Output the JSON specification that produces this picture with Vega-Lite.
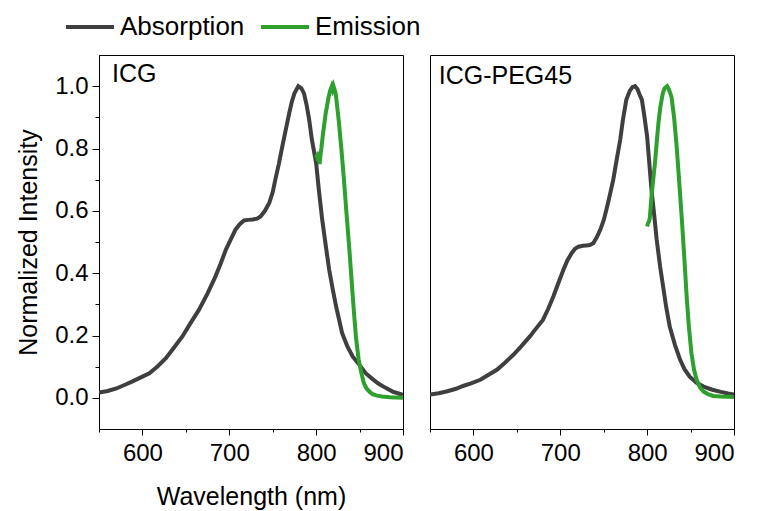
{
  "$schema": "https://vega.github.io/schema/vega-lite/v6.json",
  "autosize": {"type": "pad"},
  "padding": {"left": 16, "top": 1, "right": 5, "bottom": 5},
  "background": "white",
  "datasets": {
    "spectra": [
      {"p":"ICG","s":"Absorption","x":550,"y":0.017},{"p":"ICG","s":"Absorption","x":560,"y":0.022},{"p":"ICG","s":"Absorption","x":570,"y":0.030},{"p":"ICG","s":"Absorption","x":580,"y":0.042},{"p":"ICG","s":"Absorption","x":588,"y":0.052},{"p":"ICG","s":"Absorption","x":600,"y":0.068},{"p":"ICG","s":"Absorption","x":608,"y":0.079},{"p":"ICG","s":"Absorption","x":617,"y":0.100},{"p":"ICG","s":"Absorption","x":627,"y":0.127},{"p":"ICG","s":"Absorption","x":636,"y":0.160},{"p":"ICG","s":"Absorption","x":646,"y":0.197},{"p":"ICG","s":"Absorption","x":655,"y":0.238},{"p":"ICG","s":"Absorption","x":665,"y":0.282},{"p":"ICG","s":"Absorption","x":675,"y":0.335},{"p":"ICG","s":"Absorption","x":684,"y":0.389},{"p":"ICG","s":"Absorption","x":690,"y":0.430},{"p":"ICG","s":"Absorption","x":696,"y":0.475},{"p":"ICG","s":"Absorption","x":702,"y":0.510},{"p":"ICG","s":"Absorption","x":707,"y":0.539},{"p":"ICG","s":"Absorption","x":712,"y":0.557},{"p":"ICG","s":"Absorption","x":717,"y":0.569},{"p":"ICG","s":"Absorption","x":722,"y":0.571},{"p":"ICG","s":"Absorption","x":727,"y":0.572},{"p":"ICG","s":"Absorption","x":732,"y":0.575},{"p":"ICG","s":"Absorption","x":736,"y":0.582},{"p":"ICG","s":"Absorption","x":741,"y":0.600},{"p":"ICG","s":"Absorption","x":746,"y":0.625},{"p":"ICG","s":"Absorption","x":750,"y":0.660},{"p":"ICG","s":"Absorption","x":753,"y":0.700},{"p":"ICG","s":"Absorption","x":757,"y":0.750},{"p":"ICG","s":"Absorption","x":761,"y":0.806},{"p":"ICG","s":"Absorption","x":765,"y":0.860},{"p":"ICG","s":"Absorption","x":769,"y":0.913},{"p":"ICG","s":"Absorption","x":772,"y":0.950},{"p":"ICG","s":"Absorption","x":775,"y":0.977},{"p":"ICG","s":"Absorption","x":779.5,"y":1.0},{"p":"ICG","s":"Absorption","x":783,"y":0.993},{"p":"ICG","s":"Absorption","x":786,"y":0.977},{"p":"ICG","s":"Absorption","x":789,"y":0.940},{"p":"ICG","s":"Absorption","x":792,"y":0.892},{"p":"ICG","s":"Absorption","x":795,"y":0.830},{"p":"ICG","s":"Absorption","x":800,"y":0.753},{"p":"ICG","s":"Absorption","x":803,"y":0.670},{"p":"ICG","s":"Absorption","x":807,"y":0.571},{"p":"ICG","s":"Absorption","x":811,"y":0.490},{"p":"ICG","s":"Absorption","x":815,"y":0.411},{"p":"ICG","s":"Absorption","x":819,"y":0.350},{"p":"ICG","s":"Absorption","x":823,"y":0.293},{"p":"ICG","s":"Absorption","x":830,"y":0.207},{"p":"ICG","s":"Absorption","x":836,"y":0.165},{"p":"ICG","s":"Absorption","x":842,"y":0.133},{"p":"ICG","s":"Absorption","x":850,"y":0.105},{"p":"ICG","s":"Absorption","x":857,"y":0.079},{"p":"ICG","s":"Absorption","x":865,"y":0.060},{"p":"ICG","s":"Absorption","x":872,"y":0.045},{"p":"ICG","s":"Absorption","x":880,"y":0.032},{"p":"ICG","s":"Absorption","x":888,"y":0.020},{"p":"ICG","s":"Absorption","x":895,"y":0.014},{"p":"ICG","s":"Absorption","x":900,"y":0.010},
      {"p":"ICG","s":"Emission","x":800,"y":0.770},{"p":"ICG","s":"Emission","x":801,"y":0.780},{"p":"ICG","s":"Emission","x":802,"y":0.760},{"p":"ICG","s":"Emission","x":803,"y":0.790},{"p":"ICG","s":"Emission","x":804,"y":0.750},{"p":"ICG","s":"Emission","x":805,"y":0.780},{"p":"ICG","s":"Emission","x":806,"y":0.800},{"p":"ICG","s":"Emission","x":808,"y":0.850},{"p":"ICG","s":"Emission","x":811,"y":0.913},{"p":"ICG","s":"Emission","x":814,"y":0.960},{"p":"ICG","s":"Emission","x":816,"y":0.985},{"p":"ICG","s":"Emission","x":818,"y":1.0},{"p":"ICG","s":"Emission","x":819,"y":0.990},{"p":"ICG","s":"Emission","x":820,"y":1.0},{"p":"ICG","s":"Emission","x":822.5,"y":0.977},{"p":"ICG","s":"Emission","x":824,"y":0.940},{"p":"ICG","s":"Emission","x":826,"y":0.890},{"p":"ICG","s":"Emission","x":829,"y":0.800},{"p":"ICG","s":"Emission","x":832,"y":0.700},{"p":"ICG","s":"Emission","x":835,"y":0.590},{"p":"ICG","s":"Emission","x":838,"y":0.485},{"p":"ICG","s":"Emission","x":841,"y":0.370},{"p":"ICG","s":"Emission","x":843.6,"y":0.272},{"p":"ICG","s":"Emission","x":846,"y":0.190},{"p":"ICG","s":"Emission","x":849,"y":0.122},{"p":"ICG","s":"Emission","x":852,"y":0.080},{"p":"ICG","s":"Emission","x":855,"y":0.047},{"p":"ICG","s":"Emission","x":858,"y":0.030},{"p":"ICG","s":"Emission","x":862,"y":0.018},{"p":"ICG","s":"Emission","x":865,"y":0.012},{"p":"ICG","s":"Emission","x":870,"y":0.007},{"p":"ICG","s":"Emission","x":876,"y":0.004},{"p":"ICG","s":"Emission","x":885,"y":0.002},{"p":"ICG","s":"Emission","x":900,"y":0.0},
      {"p":"PEG","s":"Absorption","x":550,"y":0.011},{"p":"PEG","s":"Absorption","x":560,"y":0.015},{"p":"PEG","s":"Absorption","x":570,"y":0.021},{"p":"PEG","s":"Absorption","x":580,"y":0.029},{"p":"PEG","s":"Absorption","x":588,"y":0.038},{"p":"PEG","s":"Absorption","x":598,"y":0.047},{"p":"PEG","s":"Absorption","x":608,"y":0.058},{"p":"PEG","s":"Absorption","x":617,"y":0.073},{"p":"PEG","s":"Absorption","x":627,"y":0.090},{"p":"PEG","s":"Absorption","x":636,"y":0.112},{"p":"PEG","s":"Absorption","x":646,"y":0.138},{"p":"PEG","s":"Absorption","x":655,"y":0.165},{"p":"PEG","s":"Absorption","x":665,"y":0.197},{"p":"PEG","s":"Absorption","x":672,"y":0.222},{"p":"PEG","s":"Absorption","x":680,"y":0.250},{"p":"PEG","s":"Absorption","x":686,"y":0.285},{"p":"PEG","s":"Absorption","x":692,"y":0.325},{"p":"PEG","s":"Absorption","x":698,"y":0.370},{"p":"PEG","s":"Absorption","x":703.5,"y":0.410},{"p":"PEG","s":"Absorption","x":708,"y":0.440},{"p":"PEG","s":"Absorption","x":713,"y":0.464},{"p":"PEG","s":"Absorption","x":717,"y":0.478},{"p":"PEG","s":"Absorption","x":721,"y":0.485},{"p":"PEG","s":"Absorption","x":726,"y":0.488},{"p":"PEG","s":"Absorption","x":730,"y":0.489},{"p":"PEG","s":"Absorption","x":734,"y":0.490},{"p":"PEG","s":"Absorption","x":738,"y":0.496},{"p":"PEG","s":"Absorption","x":742,"y":0.515},{"p":"PEG","s":"Absorption","x":746,"y":0.539},{"p":"PEG","s":"Absorption","x":750,"y":0.570},{"p":"PEG","s":"Absorption","x":753,"y":0.603},{"p":"PEG","s":"Absorption","x":757,"y":0.650},{"p":"PEG","s":"Absorption","x":761,"y":0.700},{"p":"PEG","s":"Absorption","x":765,"y":0.765},{"p":"PEG","s":"Absorption","x":769,"y":0.828},{"p":"PEG","s":"Absorption","x":772,"y":0.890},{"p":"PEG","s":"Absorption","x":776,"y":0.956},{"p":"PEG","s":"Absorption","x":780,"y":0.985},{"p":"PEG","s":"Absorption","x":783,"y":0.997},{"p":"PEG","s":"Absorption","x":786,"y":1.0},{"p":"PEG","s":"Absorption","x":789,"y":0.990},{"p":"PEG","s":"Absorption","x":791,"y":0.975},{"p":"PEG","s":"Absorption","x":794,"y":0.956},{"p":"PEG","s":"Absorption","x":797,"y":0.900},{"p":"PEG","s":"Absorption","x":800,"y":0.838},{"p":"PEG","s":"Absorption","x":802,"y":0.770},{"p":"PEG","s":"Absorption","x":805,"y":0.667},{"p":"PEG","s":"Absorption","x":808,"y":0.590},{"p":"PEG","s":"Absorption","x":811,"y":0.507},{"p":"PEG","s":"Absorption","x":815,"y":0.420},{"p":"PEG","s":"Absorption","x":819,"y":0.346},{"p":"PEG","s":"Absorption","x":822,"y":0.290},{"p":"PEG","s":"Absorption","x":826,"y":0.229},{"p":"PEG","s":"Absorption","x":832,"y":0.170},{"p":"PEG","s":"Absorption","x":838,"y":0.122},{"p":"PEG","s":"Absorption","x":843,"y":0.092},{"p":"PEG","s":"Absorption","x":849,"y":0.068},{"p":"PEG","s":"Absorption","x":857,"y":0.048},{"p":"PEG","s":"Absorption","x":865,"y":0.036},{"p":"PEG","s":"Absorption","x":875,"y":0.026},{"p":"PEG","s":"Absorption","x":885,"y":0.019},{"p":"PEG","s":"Absorption","x":893,"y":0.014},{"p":"PEG","s":"Absorption","x":900,"y":0.011},
      {"p":"PEG","s":"Emission","x":800,"y":0.550},{"p":"PEG","s":"Emission","x":801,"y":0.560},{"p":"PEG","s":"Emission","x":802,"y":0.565},{"p":"PEG","s":"Emission","x":803,"y":0.576},{"p":"PEG","s":"Emission","x":804,"y":0.610},{"p":"PEG","s":"Emission","x":805,"y":0.646},{"p":"PEG","s":"Emission","x":807,"y":0.700},{"p":"PEG","s":"Emission","x":809,"y":0.753},{"p":"PEG","s":"Emission","x":811,"y":0.820},{"p":"PEG","s":"Emission","x":813,"y":0.881},{"p":"PEG","s":"Emission","x":815,"y":0.930},{"p":"PEG","s":"Emission","x":818,"y":0.977},{"p":"PEG","s":"Emission","x":820,"y":0.993},{"p":"PEG","s":"Emission","x":823,"y":1.0},{"p":"PEG","s":"Emission","x":825,"y":0.990},{"p":"PEG","s":"Emission","x":828,"y":0.966},{"p":"PEG","s":"Emission","x":831,"y":0.900},{"p":"PEG","s":"Emission","x":834,"y":0.806},{"p":"PEG","s":"Emission","x":837,"y":0.690},{"p":"PEG","s":"Emission","x":840,"y":0.571},{"p":"PEG","s":"Emission","x":843,"y":0.440},{"p":"PEG","s":"Emission","x":845.5,"y":0.325},{"p":"PEG","s":"Emission","x":848,"y":0.230},{"p":"PEG","s":"Emission","x":851,"y":0.143},{"p":"PEG","s":"Emission","x":854,"y":0.090},{"p":"PEG","s":"Emission","x":857,"y":0.058},{"p":"PEG","s":"Emission","x":861,"y":0.033},{"p":"PEG","s":"Emission","x":865,"y":0.020},{"p":"PEG","s":"Emission","x":870,"y":0.012},{"p":"PEG","s":"Emission","x":876,"y":0.006},{"p":"PEG","s":"Emission","x":885,"y":0.004},{"p":"PEG","s":"Emission","x":900,"y":0.003}
    ]
  },
  "spacing": 25,
  "hconcat": [
    {
      "width": 304,
      "height": 374,
      "resolve": {"axis": {"x": "independent", "y": "independent"}},
      "layer": [
        {
          "data": {"name": "spectra"},
          "transform": [{"filter": "datum.p === 'ICG'"}],
          "mark": {"type": "line", "strokeWidth": 4, "clip": true},
          "encoding": {
            "x": {"field": "x", "type": "quantitative", "scale": {"domain": [550, 900], "nice": false, "zero": false},
                  "axis": {"orient": "bottom", "values": [600, 700, 800, 900], "title": "Wavelength (nm)", "tickSize": 6, "grid": false, "labelPadding": 6, "titlePadding": 19}},
            "y": {"field": "y", "type": "quantitative", "scale": {"domain": [-0.1, 1.1], "nice": false, "zero": false},
                  "axis": {"orient": "left", "values": [0, 0.2, 0.4, 0.6, 0.8, 1.0], "format": ".1f", "title": "Normalized Intensity", "tickSize": 7, "grid": false, "titlePadding": 13}},
            "color": {"field": "s", "type": "nominal",
                      "scale": {"domain": ["Absorption", "Emission"], "range": ["#3f3f3f", "#2ea02e"]},
                      "legend": {"orient": "none", "legendX": -35, "legendY": -54, "direction": "horizontal", "title": null,
                                 "symbolType": "stroke", "symbolSize": 2304, "symbolStrokeWidth": 4, "labelFontSize": 26,
                                 "labelOffset": 4, "columnPadding": 8, "labelColor": "black", "labelFont": "Liberation Sans"}},
            "detail": {"field": "s"}
          }
        },
        {
          "data": {"values": [{"t": "ICG"}]},
          "mark": {"type": "text", "align": "left", "baseline": "alphabetic", "fontSize": 25, "font": "Liberation Sans", "color": "black"},
          "encoding": {
            "text": {"field": "t"},
            "x": {"datum": 565, "type": "quantitative", "axis": {"orient": "bottom", "values": [550, 650, 750, 850], "labels": false, "tickSize": 3, "title": null, "grid": false, "domain": false}},
            "y": {"datum": 1.012, "type": "quantitative", "axis": {"orient": "left", "values": [0.1, 0.3, 0.5, 0.7, 0.9], "labels": false, "tickSize": 4, "title": null, "grid": false, "domain": false}}
          }
        }
      ]
    },
    {
      "width": 304,
      "height": 374,
      "resolve": {"axis": {"x": "independent", "y": "independent"}},
      "layer": [
        {
          "data": {"name": "spectra"},
          "transform": [{"filter": "datum.p === 'PEG'"}],
          "mark": {"type": "line", "strokeWidth": 4, "clip": true},
          "encoding": {
            "x": {"field": "x", "type": "quantitative", "scale": {"domain": [550, 900], "nice": false, "zero": false},
                  "axis": {"orient": "bottom", "values": [600, 700, 800, 900], "title": null, "tickSize": 6, "grid": false, "labelPadding": 6}},
            "y": {"field": "y", "type": "quantitative", "scale": {"domain": [-0.1, 1.1], "nice": false, "zero": false}, "axis": null},
            "color": {"field": "s", "type": "nominal", "scale": {"domain": ["Absorption", "Emission"], "range": ["#3f3f3f", "#2ea02e"]}},
            "detail": {"field": "s"}
          }
        },
        {
          "data": {"values": [{"t": "ICG-PEG45"}]},
          "mark": {"type": "text", "align": "left", "baseline": "alphabetic", "fontSize": 25, "font": "Liberation Sans", "color": "black"},
          "encoding": {
            "text": {"field": "t"},
            "x": {"datum": 560, "type": "quantitative", "axis": {"orient": "bottom", "values": [550, 650, 750, 850], "labels": false, "tickSize": 3, "title": null, "grid": false, "domain": false}},
            "y": {"datum": 1.008, "type": "quantitative", "axis": null}
          }
        }
      ]
    }
  ],
  "config": {
    "font": "Liberation Sans",
    "view": {"stroke": "black", "strokeWidth": 1},
    "axis": {
      "domainColor": "black", "tickColor": "black", "labelColor": "black", "titleColor": "black",
      "labelFont": "Liberation Sans", "titleFont": "Liberation Sans",
      "labelFontSize": 24, "titleFontSize": 25, "titleFontWeight": "normal",
      "labelPadding": 4, "titlePadding": 10, "tickWidth": 1, "domainWidth": 1
    }
  }
}
